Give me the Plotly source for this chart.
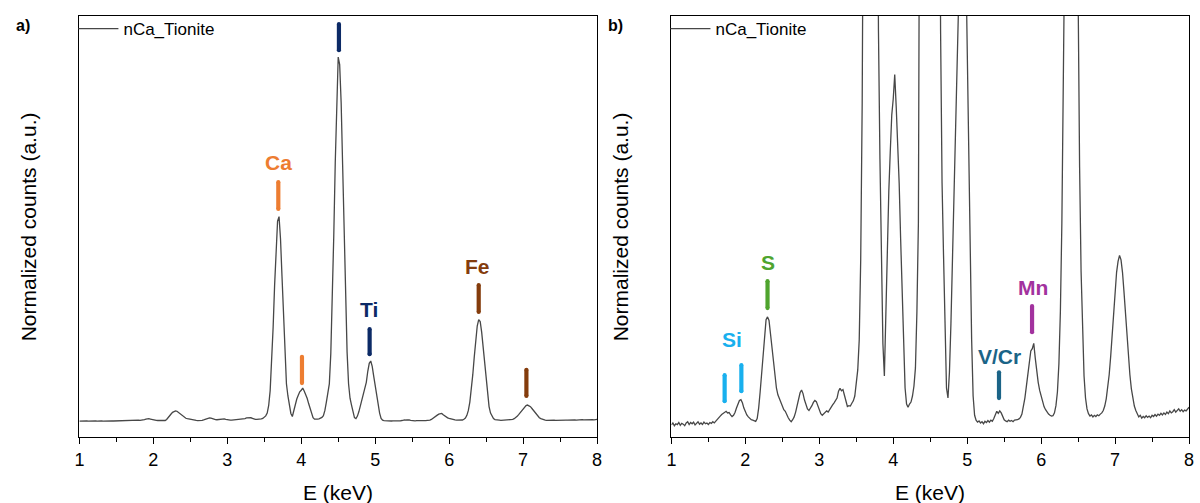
import numpy as np
import plotly.graph_objects as go

# XRF spectrum of nCa_Tionite: 20 eV channels starting at 1.00 keV,
# counts normalized so that the Ti K-alpha maximum equals 1000 a.u.
channel_start_kev = 1.00
channel_width_kev = 0.02
counts = [
    # 1.00 - 1.60
    41.8, 42.3, 41.6, 42.1, 41.9, 42.4, 41.7, 42.2, 42.0, 41.6,
    42.3, 42.6, 41.9, 42.4, 42.1, 42.5, 41.8, 42.2, 42.6, 42.0,
    42.3, 41.9, 42.5, 42.1, 42.3, 41.9, 42.4, 42.2, 42.6, 42.3,
    42.8,
    # 1.62 - 2.16 (Si)
    43.1, 43.5, 44.0, 44.4, 44.6, 45.0, 45.2, 44.8, 44.9,
    44.3, 43.9, 44.2, 44.9, 46.0, 47.1, 47.9, 48.1, 47.3, 46.0,
    45.0, 44.3, 43.8, 43.4, 43.1, 43.0, 42.8, 42.7, 43.4,
    # 2.18 - 2.62 (S)
    46.0, 50.0, 55.0, 60.5, 65.0, 68.0, 68.7, 67.8, 64.5, 61.0,
    57.0, 53.8, 51.0, 49.3, 48.3, 47.2, 46.3, 45.6, 45.2, 44.2,
    43.6, 43.0, 42.6,
    # 2.64 - 3.54
    43.1, 43.8, 45.0, 46.5, 48.3, 49.8, 50.5, 49.6,
    48.0, 46.8, 45.8, 45.4, 45.9, 46.6, 47.4, 47.9, 47.6, 46.6,
    45.5, 44.6, 44.2, 44.5, 44.9, 45.3, 45.0, 45.7, 46.3, 46.8,
    47.3, 47.9, 48.5, 50.2, 50.9, 50.3, 50.6, 49.2, 47.5, 46.4,
    46.6, 46.5, 47.2, 47.8, 49.0, 52.0, 55.5, 63.0,
    # 3.56 - 3.88 (Ca K-alpha)
    83, 122, 193, 288, 399, 502, 568, 580, 521, 423,
    311, 212, 140, 108, 82, 62, 54,
    # 3.90 - 4.22 (Ca K-beta)
    72, 85, 100, 110, 119, 123, 129, 121, 113, 102,
    88, 76, 62, 51, 47.0, 46.2, 47.0,
    # 4.24 - 4.72 (Ti K-alpha)
    47.5, 49.0, 51.5, 56, 70, 92, 112, 140, 220, 356,
    529, 721, 880, 1000, 980, 880, 715, 529, 356, 224,
    140, 102, 84, 64, 51,
    # 4.74 - 5.10 (Ti K-beta)
    48.5, 55, 67, 81, 96, 111, 127, 144, 173, 194,
    200, 186, 160, 133, 104, 81, 63, 49, 44.2,
    # 5.12 - 5.66 (V/Cr)
    43.0, 42.5, 42.8, 42.3, 42.6, 42.1, 42.7, 42.4, 42.9, 42.5,
    43.0, 42.7, 43.4, 44.6, 45.2, 44.7, 45.3, 44.8, 44.0, 43.1,
    42.8, 42.6, 43.0, 42.7, 42.9, 42.6, 43.0, 43.0,
    # 5.68 - 6.18 (Mn)
    43.1, 43.3, 43.7, 44.5, 46.2, 48.5, 51.4, 54.6, 57.6, 60.2,
    60.8, 62.1, 58.5, 55.2, 52.4, 50.4, 48.8, 47.4, 46.3, 45.6,
    45.0, 44.5, 44.2, 44.0, 44.1, 44.8,
    # 6.20 - 6.66 (Fe K-alpha)
    46.6, 50.0, 57, 70, 92, 123, 164, 211, 257, 292,
    309, 304, 276, 235, 187, 142, 106, 80, 63, 54,
    48.5, 45.8, 44.6, 44.0,
    # 6.68 - 7.30 (Fe K-beta)
    44.3, 43.8, 44.2, 43.9, 44.3, 44.1, 44.5, 44.8, 45.4, 46.5,
    48.3, 50.8, 54.3, 58.8, 64.0, 69.7, 75.0, 79.8, 82.5, 84.0,
    82.9, 79.8, 75.0, 69.7, 64.0, 58.8, 54.3, 50.8, 48.3, 46.5,
    45.4, 44.7,
    # 7.32 - 8.00
    43.8, 44.2, 43.5, 43.9, 43.6, 44.1, 43.7, 44.0, 43.6, 44.2,
    43.9, 44.4, 44.0, 44.5, 44.2, 44.7, 44.3, 44.8, 44.4, 45.0,
    44.6, 45.3, 44.8, 45.1, 45.6, 45.0, 45.4, 45.8, 45.2, 45.6,
    45.1, 45.5, 45.3, 45.8, 46.2,
]
energy = channel_start_kev + channel_width_kev * np.arange(len(counts))

sample_name = "nCa_Tionite"

# Emission-line markers, panel a) (full scale)
marks_a_energy = [3.69, 4.01, 4.51, 4.925, 6.40, 7.045]
marks_a_low = [600, 142, 1018, 218, 329, 108]
marks_a_high = [671, 211, 1087, 284, 400, 177]
marks_a_color = ["#ED7D31", "#ED7D31", "#0C2A66", "#0C2A66", "#843C0C", "#843C0C"]
labels_a_text = ["Ca", "Ti", "Fe"]
labels_a_energy = [3.69, 4.92, 6.39]
labels_a_level = [722, 336, 448]
labels_a_color = ["#ED7D31", "#0C2A66", "#843C0C"]

# Emission-line markers, panel b) (minor elements)
marks_b_energy = [1.72, 1.946, 2.30, 5.43, 5.877]
marks_b_low = [47.7, 50.2, 70.9, 48.5, 64.9]
marks_b_high = [54.2, 56.7, 77.6, 54.9, 71.4]
marks_b_color = ["#19B0EE", "#19B0EE", "#4FA42E", "#1B6487", "#A2329E"]
labels_b_text = ["Si", "S", "V/Cr", "Mn"]
labels_b_energy = [1.824, 2.307, 5.434, 5.885]
labels_b_level = [63.0, 82.2, 58.8, 76.0]
labels_b_color = ["#19B0EE", "#4FA42E", "#1B6487", "#A2329E"]

FONT = "Liberation Sans, Arial, sans-serif"
LINE_COLOR = "#474747"
W, H = 1200, 503
plot_left = [75, 672]
plot_right = [597, 1194]
plot_top, plot_bottom = 16, 437

fig = go.Figure()

for k, (xa, ya, leg) in enumerate([("x", "y", "legend"), ("x2", "y2", "legend2")]):
    fig.add_trace(go.Scatter(
        x=energy, y=counts, mode="lines", name=sample_name,
        line=dict(color=LINE_COLOR, width=1.3),
        xaxis=xa, yaxis=ya, legend=leg, hoverinfo="skip",
    ))

def add_marks(e_list, lo_list, hi_list, col_list, xa, ya):
    for e, lo, hi, c in zip(e_list, lo_list, hi_list, col_list):
        fig.add_trace(go.Scatter(
            x=[e, e], y=[lo, hi], mode="lines+markers",
            line=dict(color=c, width=4.2),
            marker=dict(color=c, size=4.2, line=dict(width=0)),
            xaxis=xa, yaxis=ya, showlegend=False, hoverinfo="skip",
        ))

def add_labels(t_list, e_list, v_list, col_list, xa, ya):
    for t, e, v, c in zip(t_list, e_list, v_list, col_list):
        fig.add_annotation(
            x=e, y=v, xref=xa, yref=ya, text=f"<b>{t}</b>", showarrow=False,
            font=dict(family=FONT, size=21, color=c),
            xanchor="center", yanchor="middle",
        )

add_marks(marks_a_energy, marks_a_low, marks_a_high, marks_a_color, "x", "y")
add_marks(marks_b_energy, marks_b_low, marks_b_high, marks_b_color, "x2", "y2")
add_labels(labels_a_text, labels_a_energy, labels_a_level, labels_a_color, "x", "y")
add_labels(labels_b_text, labels_b_energy, labels_b_level, labels_b_color, "x2", "y2")

def xaxis_style(i):
    return dict(
        domain=[plot_left[i] / W, plot_right[i] / W],
        range=[1, 8], tickvals=list(range(1, 9)),
        ticks="outside", ticklen=6, tickwidth=1.3, tickcolor="black",
        minor=dict(dtick=0.5, tick0=1, ticks="outside", ticklen=3.5,
                   tickwidth=1.3, tickcolor="black"),
        showline=True, mirror=True, linecolor="black", linewidth=1.4,
        showgrid=False, zeroline=False,
        tickfont=dict(family=FONT, size=18, color="black"),
        anchor="y" if i == 0 else "y2",
    )

def yaxis_style(i, rng):
    return dict(
        domain=[1 - plot_bottom / H, 1 - plot_top / H],
        range=rng, showticklabels=False, ticks="",
        showline=True, mirror=True, linecolor="black", linewidth=1.4,
        showgrid=False, zeroline=False,
        anchor="x" if i == 0 else "x2",
    )

legend_style = dict(
    yanchor="top", xanchor="left", y=1 - 11 / H,
    bgcolor="rgba(0,0,0,0)", borderwidth=0,
    font=dict(family=FONT, size=17, color="black"),
    itemwidth=40,
)

fig.update_layout(
    width=W, height=H,
    margin=dict(l=0, r=0, t=0, b=0),
    paper_bgcolor="white", plot_bgcolor="white",
    font=dict(family=FONT, color="black"),
    xaxis=xaxis_style(0), xaxis2=xaxis_style(1),
    yaxis=yaxis_style(0, [0, 1108]), yaxis2=yaxis_style(1, [38.8, 143.6]),
    legend=dict(legend_style, x=(plot_left[0] - 6) / W),
    legend2=dict(legend_style, x=(plot_left[1] - 6) / W),
    showlegend=True,
)

# axis titles and panel letters
for i, letter in enumerate(["a)", "b)"]):
    cx = (plot_left[i] + plot_right[i]) / 2
    fig.add_annotation(
        x=cx / W, y=1 - 492 / H, xref="paper", yref="paper",
        text="E (keV)", showarrow=False,
        font=dict(family=FONT, size=21, color="black"),
        xanchor="center", yanchor="middle",
    )
    fig.add_annotation(
        x=(plot_left[i] - 51) / W, y=1 - 226.5 / H, xref="paper", yref="paper",
        text="Normalized counts (a.u.)", textangle=-90, showarrow=False,
        font=dict(family=FONT, size=21, color="black"),
        xanchor="center", yanchor="middle",
    )
    fig.add_annotation(
        x=(plot_left[i] - 66) / W, y=1 - 26 / H, xref="paper", yref="paper",
        text=f"<b>{letter}</b>", showarrow=False,
        font=dict(family=FONT, size=16, color="black"),
        xanchor="left", yanchor="middle",
    )

fig.write_html("out.html")
